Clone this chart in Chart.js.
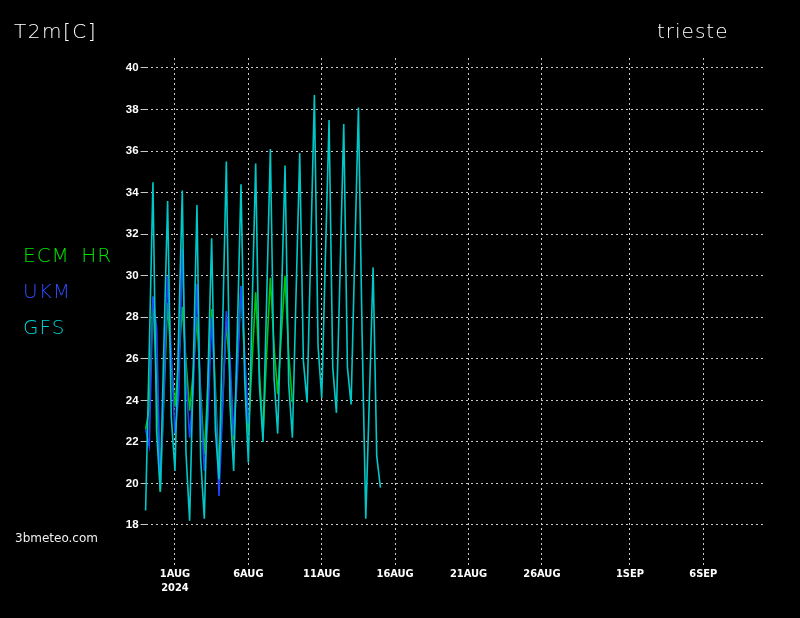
<!DOCTYPE html>
<html>
<head>
<meta charset="utf-8">
<script src="https://cdn.jsdelivr.net/npm/chart.js@4/dist/chart.umd.min.js"></script>
<style>
html,body{margin:0;padding:0;background:#000;width:800px;height:618px;overflow:hidden;}
#wrap{position:relative;width:800px;height:618px;background:#000;}
canvas{position:absolute;left:0;top:0;}
.t{position:absolute;font-family:'DejaVu Sans',sans-serif;white-space:pre;line-height:1;}
</style>
</head>
<body>
<div id="wrap">
<canvas id="c" width="800" height="618"></canvas>
<div class="t" style="left:14px;top:21px;font-size:20px;color:#ffffff;letter-spacing:1.5px;font-weight:200;">T2m[C]</div>
<div class="t" style="left:657px;top:21px;font-size:20px;color:#ffffff;letter-spacing:1px;font-weight:200;">trieste</div>
<div class="t" style="left:23px;top:245px;font-size:20px;color:#00e600;letter-spacing:1px;word-spacing:4px;font-weight:200;">ECM HR</div>
<div class="t" style="left:23px;top:281px;font-size:20px;color:#2e4cff;letter-spacing:1px;font-weight:200;">UKM</div>
<div class="t" style="left:23px;top:317px;font-size:20px;color:#00d2d2;letter-spacing:1px;font-weight:200;">GFS</div>
<div class="t" style="left:15px;top:532px;font-size:12px;color:#f0f0f0;">3bmeteo.com</div>
</div>
<script>
// Time axis: days relative to 1 AUG 2024 00Z; series are 6-hourly from 30 JUL 00Z
const startDay = -2;
const stepDays = 0.25;

const gfsT2m = [
  18.7, 26.4, 34.5, 22.5,
  19.6, 26.8, 33.6, 23.2,
  20.6, 27.2, 34.1, 21.5,
  18.2, 25.6, 33.4, 21.2,
  18.3, 25.2, 31.8, 22.6,
  20.2, 27.6, 35.5, 23.8,
  20.6, 27.3, 34.4, 25.0,
  21.0, 28.3, 35.4, 24.8,
  22.0, 28.9, 36.1, 25.1,
  22.4, 28.7, 35.3, 24.8,
  22.2, 29.1, 35.9, 25.9,
  23.9, 31.2, 38.7, 26.6,
  24.1, 30.9, 37.5, 25.6,
  23.4, 30.2, 37.3, 25.6,
  23.8, 31.0, 38.1, 27.2,
  18.3, 24.2, 30.4, 21.3,
  19.8
];

const ukmT2m = [
  22.6, 21.8, 29.0, 27.5,
  19.8, 24.5, 30.0, 26.2,
  22.4, 24.2, 31.3, 25.0,
  22.2, 24.6, 29.6, 24.0,
  20.6, 23.2, 28.0, 24.2,
  19.4, 23.6, 28.3, 26.0,
  22.3, 25.2, 29.5, 26.2,
  22.9
];

const ecmT2m = [
  22.6, 23.6, 29.0, 24.8,
  19.6, 24.2, 28.7, 25.8,
  23.7, 25.8, 28.5, 25.9,
  23.5, 25.4, 28.0, 24.4,
  21.4, 24.8, 28.4, 24.6,
  20.5, 24.0, 27.8, 25.2,
  22.1, 25.9, 29.5, 25.8,
  22.4, 25.8, 29.2, 25.4,
  22.3, 26.3, 29.9, 26.6,
  24.3, 27.2, 30.0, 26.2,
  23.9
];

const xTickDays = [0, 5, 10, 15, 20, 25, 31, 36];
const xTickLabels = [["1AUG", "2024"], "6AUG", "11AUG", "16AUG", "21AUG", "26AUG", "1SEP", "6SEP"];
const yTickValues = [18, 20, 22, 24, 26, 28, 30, 32, 34, 36, 38, 40];

const seriesNames = ["GFS", "UKM", "ECM HR"];
const seriesColors = ["#00c8c8", "#1e46ff", "#00c800"];

function toPoints(vals) {
  return vals.map((v, i) => ({ x: startDay + i * stepDays, y: v }));
}

const tickFontY = { family: "'Liberation Sans', Arial, sans-serif", weight: 'bold', size: 11.5 };
const tickFontX = { family: "'Liberation Sans Narrow', 'DejaVu Sans Condensed', sans-serif", weight: 'bold', size: 11 };

new Chart(document.getElementById('c'), {
  type: 'line',
  data: {
    datasets: [gfsT2m, ukmT2m, ecmT2m].map((vals, k) => ({
      label: seriesNames[k],
      data: toPoints(vals),
      borderColor: seriesColors[k],
      borderWidth: 1.6,
      pointRadius: 0,
      tension: 0,
      fill: false,
      clip: false
    }))
  },
  options: {
    responsive: false,
    animation: false,
    devicePixelRatio: 1,
    layout: { padding: { left: 0, right: 35, top: 58, bottom: 0 } },
    plugins: { legend: { display: false }, tooltip: { enabled: false } },
    scales: {
      x: {
        type: 'linear',
        min: -2,
        max: 40.2,
        afterBuildTicks: s => { s.ticks = xTickDays.map(v => ({ value: v })); },
        afterFit: s => { s.height = 53; },
        ticks: {
          autoSkip: false, maxRotation: 0, color: '#ffffff', font: tickFontX, padding: 3,
          callback: v => xTickLabels[xTickDays.indexOf(v)]
        },
        grid: { color: '#c8c8c8', lineWidth: 1, drawTicks: false },
        border: { display: false, dash: [2, 3] }
      },
      y: {
        min: 16.074,
        max: 40.48,
        afterBuildTicks: s => { s.ticks = yTickValues.map(v => ({ value: v })); },
        afterFit: s => { s.width = 145.6; },
        ticks: { color: '#ffffff', font: tickFontY, padding: 2, callback: v => String(v) },
        grid: { color: '#c8c8c8', lineWidth: 1, tickLength: 5, tickColor: '#c8c8c8' },
        border: { display: false, dash: [2, 3] }
      }
    }
  }
});
</script>
</body>
</html>
